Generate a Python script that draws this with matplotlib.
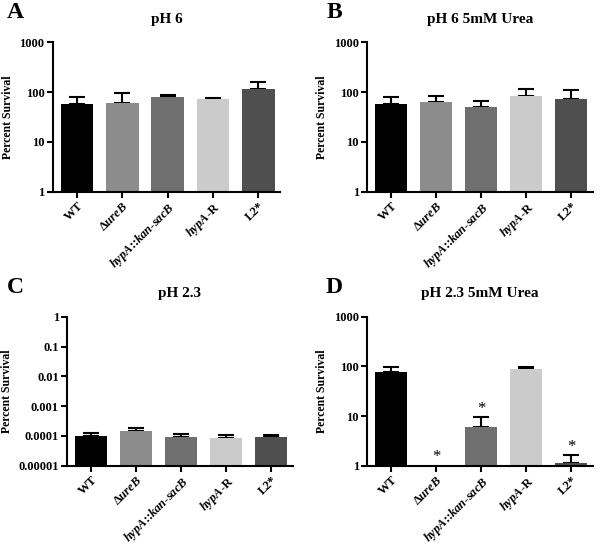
import matplotlib
matplotlib.use('Agg')
import matplotlib.pyplot as plt
import numpy as np

plt.rcParams['font.family'] = 'Liberation Serif'
plt.rcParams['font.weight'] = 'bold'
plt.rcParams['mathtext.fontset'] = 'custom'
plt.rcParams['mathtext.rm'] = 'Liberation Serif:bold'
plt.rcParams['mathtext.it'] = 'Liberation Serif:italic:bold'

strains = ['WT', r'Δ$\mathit{ureB}$', r'$\mathit{hypA}$::$\mathit{kan}$-$\mathit{sacB}$',
           r'$\mathit{hypA}$-R', 'L2*']
bar_colors = ['#000000', '#8c8c8c', '#6f6f6f', '#cbcbcb', '#4f4f4f']

# mean and upper error (top of error bar)
ph6_mean = [57, 60, 80, 72, 115]
ph6_top = [79, 98, 87, 77, 158]
ph6_urea_mean = [57, 63, 50, 83, 72]
ph6_urea_top = [79, 83, 66, 115, 110]
ph23_mean = [1.0e-4, 1.5e-4, 0.95e-4, 0.86e-4, 0.9e-4]
ph23_top = [1.29e-4, 1.84e-4, 1.17e-4, 1.08e-4, 1.05e-4]
ph23_urea_mean = [77, np.nan, 6.0, 87, 1.13]
ph23_urea_top = [98, np.nan, 9.6, 98, 1.63]
ph23_urea_star = [None, 1.5, 14, None, 2.4]

panels = [
    ('A', 'pH 6', ph6_mean, ph6_top, (1, 1000), [1, 10, 100, 1000],
     ['1', '10', '100', '1000'], None, [0.088, 0.650, 0.379, 0.273], 0.012),
    ('B', 'pH 6 5mM Urea', ph6_urea_mean, ph6_urea_top, (1, 1000), [1, 10, 100, 1000],
     ['1', '10', '100', '1000'], None, [0.612, 0.650, 0.376, 0.273], 0.545),
    ('C', 'pH 2.3', ph23_mean, ph23_top, (1e-5, 1), [1e-5, 1e-4, 1e-3, 1e-2, 1e-1, 1],
     ['0.00001', '0.0001', '0.001', '0.01', '0.1', '1'], None, [0.112, 0.150, 0.376, 0.272], 0.012),
    ('D', 'pH 2.3 5mM Urea', ph23_urea_mean, ph23_urea_top, (1, 1000), [1, 10, 100, 1000],
     ['1', '10', '100', '1000'], ph23_urea_star, [0.612, 0.150, 0.376, 0.272], 0.542),
]

fig = plt.figure(figsize=(6.0, 5.48), dpi=100)
x = np.arange(len(strains))

for letter, title, mean, top, ylim, yticks, ylabels, stars, pos, lx in panels:
    ax = fig.add_axes(pos)
    mean = np.array(mean, dtype=float)
    top = np.array(top, dtype=float)
    ok = ~np.isnan(mean)
    ax.bar(x[ok], mean[ok], width=0.72, color=np.array(bar_colors)[ok], zorder=2)
    ax.errorbar(x[ok], mean[ok], yerr=[np.zeros(ok.sum()), top[ok] - mean[ok]],
                fmt='none', ecolor='black', elinewidth=1.5, capsize=6, capthick=1.5, zorder=1)
    if stars:
        for xi, s in zip(x, stars):
            if s is not None:
                ax.text(xi, s, '*', ha='center', va='center', fontsize=12, fontweight='normal')
    ax.set_yscale('log')
    ax.set_ylim(*ylim)
    ax.set_xlim(-0.53, 4.48)
    ax.set_yticks(yticks)
    ax.set_yticklabels(ylabels)
    ax.yaxis.set_minor_locator(matplotlib.ticker.NullLocator())
    ax.set_xticks(x)
    ax.set_xticklabels(strains, rotation=45, ha='right', rotation_mode='anchor')
    ax.tick_params(axis='both', labelsize=9, width=1.5, length=4, pad=2)
    ax.spines['top'].set_visible(False)
    ax.spines['right'].set_visible(False)
    ax.spines['left'].set_linewidth(1.5)
    ax.spines['bottom'].set_linewidth(1.5)
    ax.set_ylabel('Percent Survival', fontsize=8.5, fontweight='bold', labelpad=4)
    ax.set_title(title, fontsize=11, fontweight='bold', pad=14)
    fig.text(lx, pos[1] + pos[3] + 0.035, letter, fontsize=17, fontweight='bold', va='bottom')

fig.savefig('out.png', dpi=100, facecolor='white')
